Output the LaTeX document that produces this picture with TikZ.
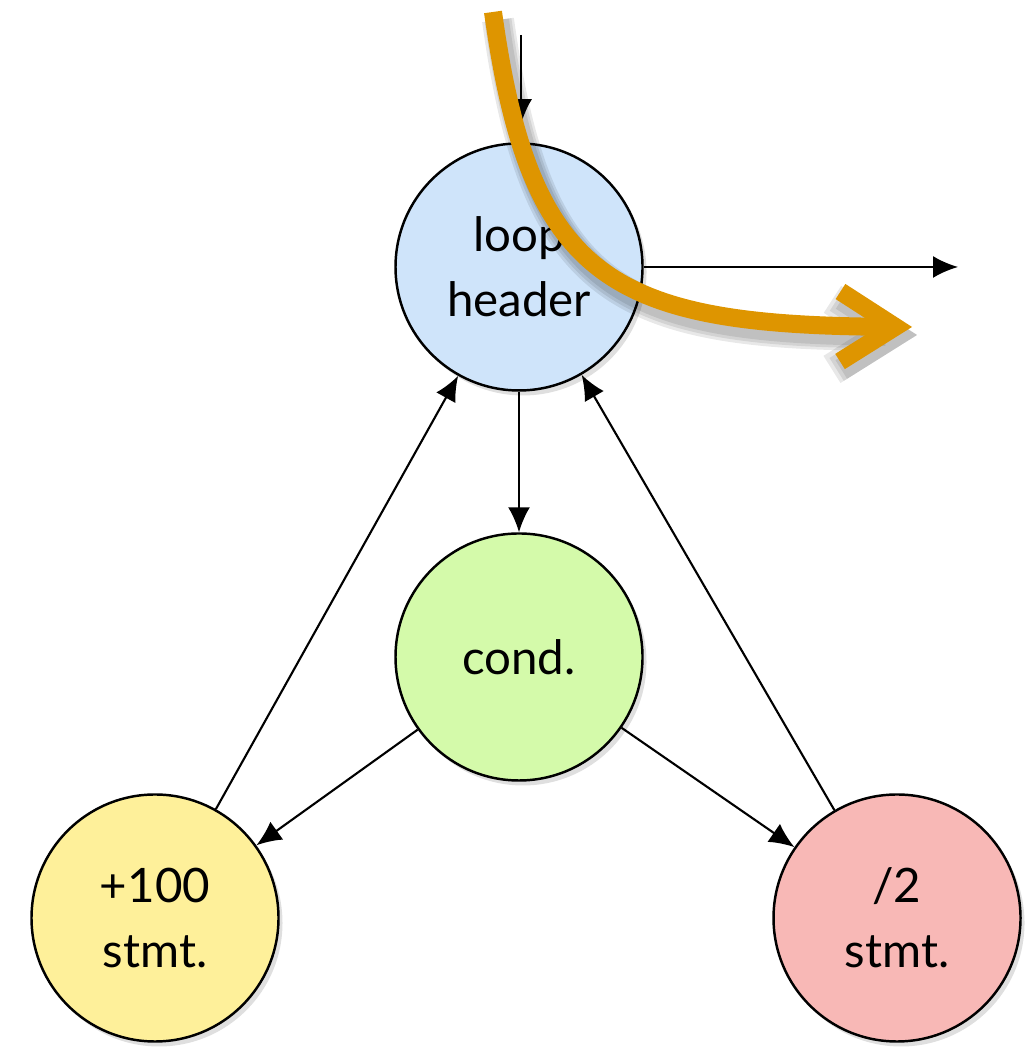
\documentclass[tikz,border=0pt]{standalone}
\usepackage{fontspec}
\setmainfont{Lato}
\usetikzlibrary{arrows.meta,shadows}
\definecolor{headerblue}{HTML}{CFE4FA}
\definecolor{condgreen}{HTML}{D4FAAA}
\definecolor{addyellow}{HTML}{FEF09A}
\definecolor{halfred}{HTML}{F8B8B6}
\definecolor{flow}{HTML}{DE9500}
\tikzset{
>={Latex[width=2.2mm,length=2.5mm]},
	block/.style={
		circle,
		draw=black, line width=0.7pt,
		minimum size=2.47cm,
		inner sep=0pt,
		align=center,
		font=\fontsize{13.5}{18.5}\selectfont,
		drop shadow={opacity=0.25, shadow xshift=0.04cm, shadow yshift=-0.05cm}},
	edge/.style={
		->, line width=0.6pt},
	path/.style={
		draw=flow, line width=0.18cm,
		-{Straight Barb[length=5.5mm,width=7mm]}}
}

\begin{document}
\begin{tikzpicture}
[node distance=3.9cm]
\useasboundingbox (0,0) rectangle (10.26,10.49);
\node[block, fill=headerblue] (header) at (5.19,7.82) {loop\\header};
\node[block, fill=condgreen, below of=header] (cond) {cond.};
\node[block, fill=addyellow, below of=cond, node distance=2.61cm, xshift=-3.64cm] (add) {+100\\stmt.};
\node[block, fill=halfred, below of=cond, node distance=2.61cm, xshift=3.78cm] (half) {/2\\stmt.};
\coordinate (entry) at (5.21,10.14);
\coordinate (exit) at (9.58,7.82);
\draw[edge, shorten >=0.18cm] (entry) -- (entry |- header.north);
\draw[edge] (header) -- (exit);
\draw[edge] (header) -- (cond);
\draw[edge] (cond) -- (add);
\draw[edge] (cond) -- (half);
\draw[edge] (add) -- (header);
\draw[edge] (half) -- (header);
% flow of control through the loop, with a soft shadow
\coordinate (from) at (4.93,10.37);
\coordinate (to) at (9.12,7.22);
\begin{scope}[transform canvas={shift={(0.05,-0.08)}}]
\foreach \w in {0.32,0.27,0.22}
	\draw[path, draw=black, opacity=0.09, line width=\w cm] (from) .. controls (5.3,7.7) and (6.1,7.24) .. (to);
\end{scope}
\draw[path] (from) .. controls (5.3,7.7) and (6.1,7.24) .. (to);
\end{tikzpicture}
\end{document}
